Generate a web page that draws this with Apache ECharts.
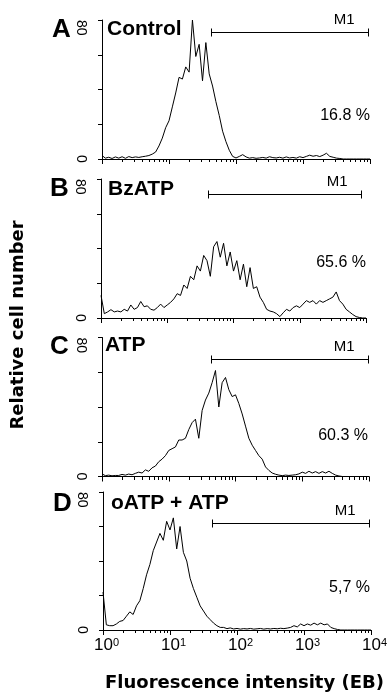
<!DOCTYPE html>
<html>
<head>
<meta charset="utf-8">
<script src="https://cdn.jsdelivr.net/npm/echarts@6/dist/echarts.min.js"></script>
<style>
  html, body { margin: 0; padding: 0; background: #fff; }
  #chart { width: 391px; height: 695px; }
</style>
</head>
<body>
<div id="chart"></div>
<script>
// histograms: 81 log-spaced bins from 10^0 to 10^4 (20 bins per decade)
const panelLetters = ['A', 'B', 'C', 'D'];
const conditions = ['Control', 'BzATP', 'ATP', 'oATP + ATP'];
const gatePercents = ['16.8 %', '65.6 %', '60.3 %', '5,7 %'];
const gateName = 'M1';
// M1 gate: [start bin, end bin, level drawn at]
const gates = [[32.6, 79.4, 73], [32.3, 78.6, 71.4], [32.6, 79.6, 67.6], [32.6, 79.5, 62.3]];
const decadeLabels = ['0', '1', '2', '3', '4'];
const yTickLabels = [0, 80];

const countsControl = [
  2, 0.5, 1, 0.3, 1.2, 0.5, 1.3, 0.4, 1.4, 0.8,
  1.2, 0.9, 1.3, 1.6, 2.0, 2.8, 4, 7.5, 12, 18,
  22, 30, 38, 47, 46, 53, 50, 80, 59, 66,
  45, 67, 49, 42, 33, 25, 16, 10, 5, 1.5,
  0.6, 1.5, 2.5, 1.2, 0.5, 0.8, 0.4, 0.6, 0.9, 0.5,
  1.3, 0.8, 0.6, 1.0, 0.5, 1.2, 0.6, 0.9, 0.5, 1.3,
  0.8, 1.5, 2.2, 1.6, 2.0, 1.4, 2.2, 3.3, 1.5, 1.0,
  0.5, 0.3, 0, 0, 0, 0, 0, 0, 0, 0, 0
];
const countsBzATP = [
  13, 2.5, 3.5, 4.8, 3.5, 4, 3.5, 5, 4, 7.5,
  5, 6, 9.5, 6.5, 7, 5, 4.5, 6, 8, 6,
  7.5, 9, 11, 14, 13, 19, 17, 24, 22, 30,
  27, 36, 33, 24, 41, 44, 35, 43, 30, 38,
  27, 33, 22, 31, 18, 29, 17, 18, 12, 9,
  5, 4, 3.5, 2.5, 0.8, 3, 5, 4, 6, 7,
  6, 8, 10, 9, 10, 8, 10, 9, 10, 11,
  12, 15, 10, 8, 5, 3.5, 2, 0.8, 0.3, 0, 0
];
const countsATP = [
  1.5, 0.5, 0.8, 0.4, 0.6, 0.6, 1.2, 0.8, 1.4, 1.0,
  1.8, 2.5, 2.0, 3.8, 3.0, 5.0, 6, 8.5, 10, 12,
  15, 16, 17, 21, 21, 22, 27, 31, 33, 22,
  38, 44, 48, 54, 61, 40, 54, 57, 50, 46,
  47, 42, 36, 29, 22, 18, 15, 12, 10, 5.5,
  3.5, 2, 1.3, 0.8, 0.5, 0.8, 0.6, 0.8, 1.0, 1.5,
  2.5, 1.8, 3.0, 2.0, 2.8, 1.8, 2.8, 2.0, 3.0, 1.8,
  0.8, 0.3, 0, 0, 0, 0, 0, 0, 0, 0, 0
];
const countsOxATP = [
  22, 3, 2.5, 2.5, 3.5, 5, 5.5, 8, 10.5, 9,
  14, 17, 24, 32, 38, 46, 51, 56, 52, 63,
  58, 65, 47, 60, 45, 40, 30, 24, 19, 14,
  11, 8, 6, 4, 2.5, 1.5, 1.5, 0.8, 1.2, 0.6,
  0.9, 0.5, 0.8, 0.6, 0.9, 0.5, 0.7, 0.9, 0.5, 0.8,
  0.6, 0.9, 0.7, 1.0, 0.8, 1.1, 1.5, 2.5, 1.8, 3.5,
  2.5, 3.5, 2.8, 4, 3, 4, 3, 3.5, 1.5, 0.8,
  0.3, 0, 0, 0, 0, 0, 0, 0, 0, 0, 0
];
const counts = [countsControl, countsBzATP, countsATP, countsOxATP];

// minor log ticks (2..9 in each decade), in bin units
const binsPerDecade = 20;
const minorTicks = [];
for (let n = 0; n < 4; n++) {
  for (let k = 2; k <= 9; k++) minorTicks.push([binsPerDecade * (n + Math.log10(k)), 0]);
}

const grids = [
  { left: 102, top: 20, width: 268, height: 139 },
  { left: 101, top: 179, width: 265, height: 139 },
  { left: 102, top: 337.5, width: 267, height: 139 },
  { left: 103, top: 492, width: 268, height: 138 }
];

const black = '#000';
const FONT = '"Liberation Sans", Arial, sans-serif';

function renderGate(params, api) {
  const a = api.coord([api.value(0), api.value(2)]);
  const b = api.coord([api.value(1), api.value(2)]);
  const y = Math.round(a[1]) + 0.5;
  const x1 = Math.round(a[0]) + 0.5;
  const x2 = Math.round(b[0]) + 0.5;
  const st = { stroke: black, lineWidth: 1 };
  return {
    type: 'group',
    children: [
      { type: 'line', shape: { x1: x1, y1: y, x2: x2, y2: y }, style: st },
      { type: 'line', shape: { x1: x1, y1: y - 4, x2: x1, y2: y + 4 }, style: st },
      { type: 'line', shape: { x1: x2, y1: y - 4, x2: x2, y2: y + 4 }, style: st },
      {
        type: 'text', x: x2 - 14, y: y - 13,
        style: { text: gateName, fill: black, font: '15px ' + FONT, textAlign: 'right', textVerticalAlign: 'middle' }
      }
    ]
  };
}

function renderMinorTick(params, api) {
  const p = api.coord([api.value(0), 0]);
  const x = Math.round(p[0]) + 0.5;
  const y = Math.round(p[1]);
  return { type: 'line', shape: { x1: x, y1: y, x2: x, y2: y + 3 }, style: { stroke: black, lineWidth: 1 } };
}

const xAxes = [], yAxes = [], series = [];
grids.forEach((g, i) => {
  const last = i === grids.length - 1;
  xAxes.push({
    type: 'value', gridIndex: i, position: 'bottom', min: 0, max: 80, interval: binsPerDecade,
    axisLine: { show: true, onZero: false, lineStyle: { color: black, width: 1 } },
    axisTick: { show: true, length: 5, lineStyle: { color: black } },
    splitLine: { show: false },
    axisLabel: {
      show: last, margin: 7, color: black,
      formatter: v => '{b|10}{e|' + decadeLabels[Math.round(v / binsPerDecade)] + '}',
      rich: {
        b: { fontFamily: FONT, fontSize: 17, color: black, padding: [0, 0, 0, 7] },
        e: { fontFamily: FONT, fontSize: 11, color: black, verticalAlign: 'top' }
      }
    }
  });
  // main y axis: line, ticks and the "0" label
  yAxes.push({
    type: 'value', gridIndex: i, position: 'left', min: 0, max: 80, interval: 20,
    axisLine: { show: true, lineStyle: { color: black, width: 1 } },
    axisTick: { show: true, length: 4, lineStyle: { color: black } },
    splitLine: { show: false },
    axisLabel: {
      show: true, rotate: -90, margin: 14, color: black, fontFamily: FONT, fontSize: 14,
      formatter: v => (v === yTickLabels[0] ? String(v) : '')
    }
  });
  // same scale, only the "80" label, which hangs below its tick
  yAxes.push({
    type: 'value', gridIndex: i, position: 'left', min: 0, max: 80, interval: 20,
    axisLine: { show: false }, axisTick: { show: false }, splitLine: { show: false },
    axisLabel: {
      show: true, rotate: -90, margin: 14, color: black, fontFamily: FONT, fontSize: 14, align: 'left',
      formatter: v => (v === yTickLabels[1] ? String(v) : '')
    }
  });
  series.push({
    type: 'line', xAxisIndex: i, yAxisIndex: 2 * i,
    data: counts[i].map((v, j) => [j, v]),
    symbol: 'none', lineStyle: { color: black, width: 1 }, silent: true
  });
  series.push({
    type: 'custom', xAxisIndex: i, yAxisIndex: 2 * i,
    data: [gates[i]], renderItem: renderGate, silent: true
  });
  series.push({
    type: 'custom', xAxisIndex: i, yAxisIndex: 2 * i, clip: false,
    data: minorTicks, renderItem: renderMinorTick, silent: true
  });
});

// panel letters, condition names, gate percentages
const letterPos = [[52, 30], [50, 188.5], [50, 346.5], [53, 504]];
const condPos = [[107, 28.8], [108, 189.5], [105, 345.5], [111, 503.3]];
const pctPos = [[370, 115.8], [366, 262.5], [368, 435.8], [370, 587.3]];
const graphic = [];
panelLetters.forEach((t, i) => {
  graphic.push({ type: 'text', x: letterPos[i][0], y: letterPos[i][1],
    style: { text: t, fill: black, font: 'bold 26px ' + FONT, textAlign: 'left', textVerticalAlign: 'middle' } });
  graphic.push({ type: 'text', x: condPos[i][0], y: condPos[i][1],
    style: { text: conditions[i], fill: black, font: 'bold 21px ' + FONT, textAlign: 'left', textVerticalAlign: 'middle' } });
  graphic.push({ type: 'text', x: pctPos[i][0], y: pctPos[i][1],
    style: { text: gatePercents[i], fill: black, font: '16px ' + FONT, textAlign: 'right', textVerticalAlign: 'middle' } });
});
graphic.push({ type: 'text', x: 18.5, y: 325, rotation: Math.PI / 2,
  style: { text: 'Relative cell number', fill: black, font: 'bold 18px "DejaVu Sans", sans-serif', textAlign: 'center', textVerticalAlign: 'middle' } });
graphic.push({ type: 'text', x: 244.5, y: 683.5,
  style: { text: 'Fluorescence intensity (EB)', fill: black, font: 'bold 18px "DejaVu Sans", sans-serif', textAlign: 'center', textVerticalAlign: 'middle' } });

const chart = echarts.init(document.getElementById('chart'));
chart.setOption({
  animation: false,
  backgroundColor: '#fff',
  grid: grids,
  xAxis: xAxes,
  yAxis: yAxes,
  series: series,
  graphic: graphic
});
</script>
</body>
</html>
